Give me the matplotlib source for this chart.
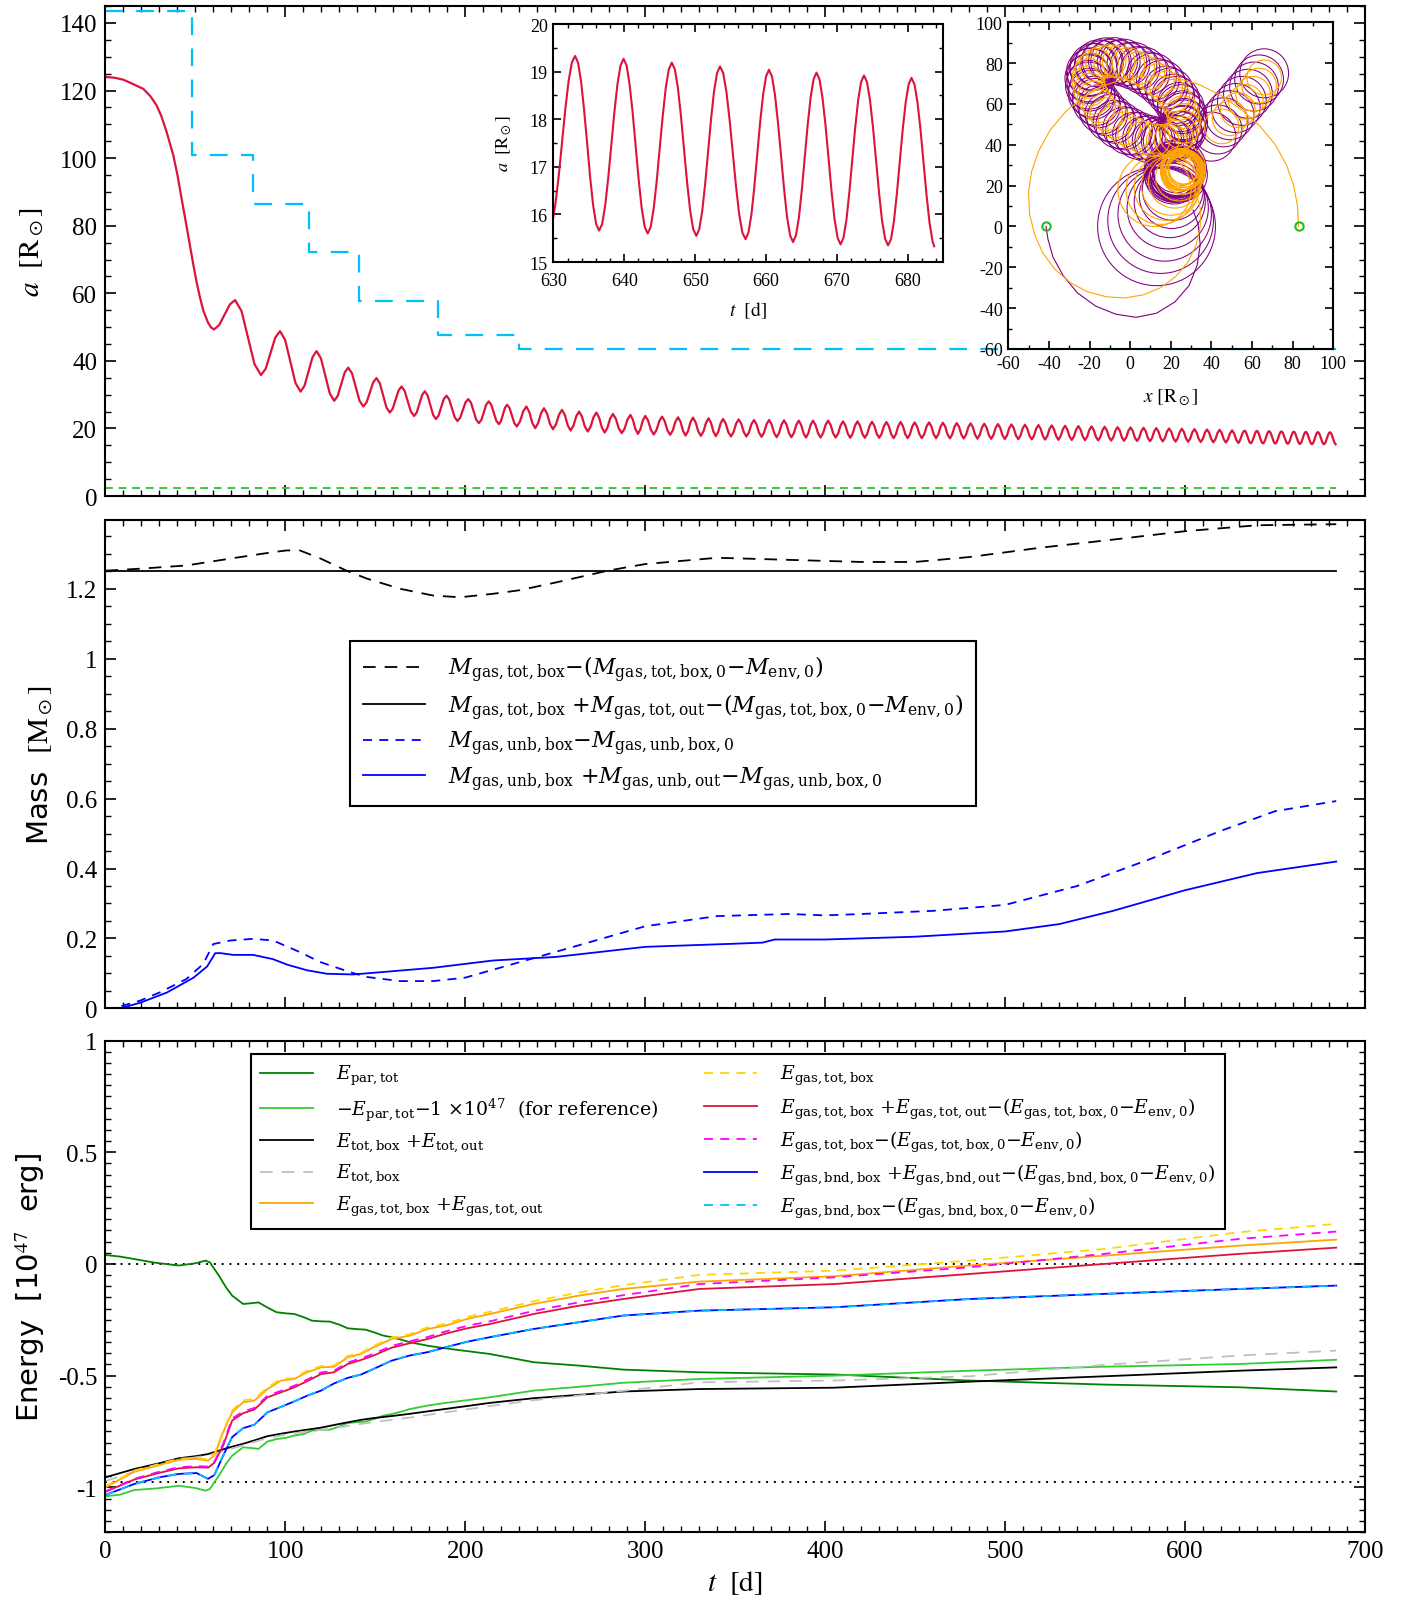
import matplotlib
matplotlib.use("Agg")
import matplotlib.pyplot as plt
from matplotlib.patches import Circle
from matplotlib.ticker import MultipleLocator, FuncFormatter
from matplotlib.font_manager import FontProperties

# ---------------- top panel: separation a(t) ----------------
a_early_t = [0, 5, 10, 15, 21, 25, 28.4, 31, 34, 37.7, 40, 42.3, 44.6, 46.9, 48.8, 50.6, 52.5, 54.3, 57, 58.7,
             60.3, 63.2, 66.15, 69.1, 72, 75.6, 79.2, 82.8, 86.4, 89.05, 91.7, 94.35, 97, 99.85, 102.7, 105.55,
             108.4, 110.6, 112.85, 115.1, 117.3, 119.75, 122.2, 124.65, 127.1, 129.05, 131.0, 132.95, 134.9,
             137.0, 139.1, 141.2, 143.3, 145.1, 146.95, 148.8, 150.6, 152.45, 154.3, 156.15, 158, 159.6, 161.25,
             162.9, 164.5, 166.25, 168.0, 169.75, 171.5, 173.0, 174.5, 176.0, 177.5, 179.0, 180.55, 182.1, 183.6,
             185.1, 186.55, 188.0, 189.5, 191.0, 192.55, 194.1, 195.6, 197.1, 198.6, 200.1, 201.6, 203.1, 204.55,
             206.0, 207.5, 208.9, 210.25, 211.6, 213, 214.4, 215.8, 217.2, 218.6, 219.75, 220.9, 222.05, 223.2,
             224.55, 225.9, 227.25, 228.6]
a_early = [124, 123.8, 123.2, 122, 120.5, 118.3, 115.6, 112.5, 107.7, 100.8, 95, 88, 81.2, 74.2, 68.5, 63.4, 58.8,
           55, 51.3, 49.9, 49.3, 50.6, 53.65, 56.7, 58, 54.76, 46.9, 39.04, 35.8, 37.7, 42.3, 46.9, 48.8, 46.19,
           39.85, 33.51, 30.9, 32.65, 36.9, 41.15, 42.9, 40.75, 35.55, 30.35, 28.2, 29.63, 33.1, 36.57, 38, 36.32,
           32.25, 28.18, 26.5, 27.73, 30.7, 33.67, 34.9, 33.41, 29.8, 26.19, 24.7, 25.82, 28.55, 31.28, 32.4, 31.13,
           28.05, 24.97, 23.7, 24.77, 27.35, 29.93, 31, 29.8, 26.9, 24.0, 22.8, 23.81, 26.25, 28.69, 29.7, 28.6,
           25.95, 23.3, 22.2, 23.15, 25.45, 27.75, 28.7, 27.66, 25.15, 22.64, 21.6, 22.53, 24.8, 27.07, 28, 27.02,
           24.65, 22.28, 21.3, 22.13, 24.15, 26.17, 27.0, 26.07, 23.8, 21.53, 20.6]

a_peak_t = [233.9, 243.7, 253.7, 263.2, 272.8, 282.0, 291.7, 300.0, 309.3, 318.2, 326.5, 335.2, 343.2, 351.9, 360.4,
            368.8, 377.1, 385.3, 393.2, 401.6, 409.9, 417.9, 426.0, 434.0, 441.9, 449.7, 457.7, 465.4, 473.1,
            480.8, 488.4, 496.0, 503.5, 511.0, 518.5, 525.9, 533.3, 540.7, 548.0, 555.3, 562.5, 569.7, 576.9,
            584.0, 591.1, 598.2, 605.2, 612.2, 619.2, 626.1, 633.06, 639.9, 646.7, 653.5, 660.4, 667.1, 673.8, 680.5]
a_peak = [26.5, 26.0, 25.5, 25.0, 24.7, 24.3, 24.0, 23.7, 23.5, 23.3, 23.2, 23.0, 22.8, 22.7, 22.5, 22.5, 22.4, 22.3,
          22.3, 22.3, 22.1, 22.1, 21.95, 21.9, 21.9, 21.8, 21.8, 21.7, 21.6, 21.5, 21.4, 21.3, 21.2, 21.1, 21.0, 20.9,
          20.8, 20.7, 20.6, 20.5, 20.4, 20.3, 20.2, 20.1, 20.0, 19.9, 19.8, 19.7, 19.6, 19.45, 19.33, 19.27, 19.19,
          19.11, 19.04, 18.98, 18.92, 18.87]
a_trough_t = [238.8, 248.7, 258.5, 268.0, 277.4, 286.9, 295.9, 304.7, 313.8, 322.4, 330.9, 339.2, 347.6, 356.2, 364.6,
              373.0, 381.2, 389.3, 397.4, 405.8, 413.9, 422.0, 430.0, 438.0, 445.8, 453.7, 461.6, 469.3, 477.0,
              484.6, 492.2, 499.8, 507.3, 514.8, 522.2, 529.6, 537.0, 544.4, 551.7, 558.9, 566.1, 573.3, 580.5,
              587.6, 594.7, 601.7, 608.7, 615.7, 622.7, 629.6, 636.45, 643.3, 650.15, 657.1, 663.8, 670.5, 677.2, 683.7]
a_trough = [20.09, 19.79, 19.40, 19.10, 18.81, 18.61, 18.41, 18.22, 18.12, 17.92, 17.82, 17.73, 17.63, 17.63, 17.53,
            17.43, 17.43, 17.33, 17.33, 17.33, 17.23, 17.23, 17.23, 17.13, 17.13, 17.13, 17.13, 17.08, 17.03, 16.98,
            16.93, 16.88, 16.83, 16.78, 16.72, 16.66, 16.60, 16.54, 16.48, 16.42, 16.36, 16.30, 16.24, 16.18, 16.12,
            16.06, 16.00, 15.92, 15.84, 15.72, 15.66, 15.60, 15.55, 15.48, 15.42, 15.37, 15.35, 15.30]
# shoulder points of each swing (read between the extrema)
a_mid_t = [230.37, 232.13, 235.53, 237.17, 240.43, 242.07, 245.37, 247.03, 250.37, 252.03, 255.3, 256.9, 260.07,
           261.63, 264.8, 266.4, 269.6, 271.2, 274.33, 275.87, 278.93, 280.47, 283.63, 285.27, 288.5, 290.1, 293.1,
           294.5, 297.27, 298.63, 301.57, 303.13, 306.23, 307.77, 310.8, 312.3, 315.27, 316.73, 319.6, 321.0,
           323.77, 325.13, 327.97, 329.43, 332.33, 333.77, 336.53, 337.87, 340.53, 341.87, 344.67, 346.13, 349.03,
           350.47, 353.33, 354.77, 357.6, 359.0, 361.8, 363.2, 366.0, 367.4, 370.2, 371.6, 374.37, 375.73, 378.47,
           379.83, 382.57, 383.93, 386.63, 387.97, 390.6, 391.9, 394.6, 396.0, 398.8, 400.2, 403.0, 404.4, 407.17,
           408.53, 411.23, 412.57, 415.23, 416.57, 419.27, 420.63, 423.33, 424.67, 427.33, 428.67, 431.33, 432.67,
           435.33, 436.67, 439.3, 440.6, 443.2, 444.5, 447.1, 448.4, 451.03, 452.37, 455.03, 456.37, 459.0, 460.3,
           462.87, 464.13, 466.7, 468.0, 470.57, 471.83, 474.4, 475.7, 478.27, 479.53, 482.07, 483.33, 485.87,
           487.13, 489.67, 490.93, 493.47, 494.73, 497.27, 498.53, 501.03, 502.27, 504.77, 506.03, 508.53, 509.77,
           512.27, 513.53, 516.03, 517.27, 519.73, 520.97, 523.43, 524.67, 527.13, 528.37, 530.83, 532.07, 534.53,
           535.77, 538.23, 539.47, 541.93, 543.17, 545.6, 546.8, 549.23, 550.47, 552.9, 554.1, 556.5, 557.7, 560.1,
           561.3, 563.7, 564.9, 567.3, 568.5, 570.9, 572.1, 574.5, 575.7, 578.1, 579.3, 581.67, 582.83, 585.2,
           586.4, 588.77, 589.93, 592.3, 593.5, 595.87, 597.03, 599.37, 600.53, 602.87, 604.03, 606.37, 607.53,
           609.87, 611.03, 613.37, 614.53, 616.87, 618.03, 620.37, 621.53, 623.83, 624.97, 627.27, 628.43]
a_mid = [22.08, 25.03, 24.90, 21.69, 21.57, 24.52, 24.45, 21.34, 21.22, 24.07, 23.98, 20.93, 20.80, 23.60, 23.53,
         20.58, 20.50, 23.30, 23.23, 20.28, 20.18, 22.93, 22.88, 20.03, 19.96, 22.65, 22.60, 19.81, 19.73, 22.38,
         22.33, 19.59, 19.54, 22.18, 22.16, 19.47, 19.42, 22.0, 21.96, 19.27, 19.24, 21.88, 21.86, 19.17, 19.12,
         21.71, 21.68, 19.05, 19.0, 21.53, 21.51, 18.92, 18.90, 21.43, 21.43, 18.90, 18.85, 21.28, 21.26, 18.77,
         18.77, 21.26, 21.23, 18.70, 18.67, 21.16, 21.16, 18.67, 18.65, 21.08, 21.06, 18.57, 18.57, 21.06, 21.06,
         18.57, 18.57, 21.06, 21.06, 18.57, 18.52, 20.91, 20.88, 18.45, 18.45, 20.88, 20.88, 18.45, 18.41, 20.77,
         20.77, 18.41, 18.40, 20.73, 20.71, 18.32, 18.32, 20.71, 20.71, 18.32, 18.30, 20.63, 20.63, 18.30, 18.30,
         20.63, 20.63, 18.30, 18.27, 20.56, 20.55, 18.24, 18.21, 20.47, 20.46, 18.17, 18.15, 20.38, 20.37, 18.11,
         18.09, 20.30, 20.28, 18.05, 18.02, 20.21, 20.20, 17.99, 17.96, 20.12, 20.11, 17.92, 17.90, 20.03, 20.02,
         17.86, 17.84, 19.95, 19.93, 17.79, 17.77, 19.86, 19.84, 17.72, 17.70, 19.77, 19.75, 17.65, 17.63, 19.68,
         19.66, 17.58, 17.56, 19.59, 19.57, 17.51, 17.49, 19.50, 19.48, 17.44, 17.42, 19.41, 19.39, 17.37, 17.35,
         19.32, 19.30, 17.30, 17.28, 19.23, 19.21, 17.23, 17.21, 19.14, 19.12, 17.16, 17.14, 19.05, 19.03, 17.09,
         17.07, 18.96, 18.94, 17.02, 17.0, 18.87, 18.85, 16.95, 16.93, 18.78, 18.76, 16.87, 16.84, 18.68, 18.66,
         16.78, 16.74, 18.55, 18.52, 16.65]

step_t = [0, 48.2, 82, 113, 141, 185, 230, 684]
step_a = [143.5, 100.8, 86.3, 72.1, 57.7, 47.7, 43.5, 43.5]
floor_t = [0, 684]
floor_a = [2.5, 2.5]

# inset: late-time separation
ins_t = [630.0, 630.315, 630.77, 631.23, 631.69, 632.145, 632.60, 633.06,
         633.48, 633.91, 634.33, 634.76, 635.18, 635.60, 636.03, 636.45,
         636.88, 637.31, 637.74, 638.18, 638.61, 639.04, 639.47, 639.9,
         640.33, 640.75, 641.18, 641.6, 642.03, 642.45, 642.88, 643.3,
         643.73, 644.15, 644.58, 645.0, 645.43, 645.85, 646.28, 646.7,
         647.13, 647.56, 647.99, 648.43, 648.86, 649.29, 649.72, 650.15,
         650.57, 650.99, 651.41, 651.83, 652.24, 652.66, 653.08, 653.5,
         653.95, 654.4, 654.85, 655.3, 655.75, 656.2, 656.65, 657.1,
         657.51, 657.93, 658.34, 658.75, 659.16, 659.58, 659.99, 660.4,
         660.83, 661.25, 661.68, 662.1, 662.53, 662.95, 663.38, 663.8,
         664.21, 664.63, 665.04, 665.45, 665.86, 666.28, 666.69, 667.1,
         667.53, 667.95, 668.38, 668.8, 669.23, 669.65, 670.08, 670.5,
         670.91, 671.33, 671.74, 672.15, 672.56, 672.98, 673.39, 673.8,
         674.23, 674.65, 675.08, 675.5, 675.93, 676.35, 676.78, 677.2,
         677.61, 678.03, 678.44, 678.85, 679.26, 679.68, 680.09, 680.5,
         680.93, 681.35, 681.78, 682.2, 682.63, 683.05, 683.48, 683.7]
ins_a = [15.95, 16.25, 16.83, 17.53, 18.22, 18.80, 19.19, 19.33,
         19.19, 18.79, 18.20, 17.50, 16.79, 16.20, 15.80, 15.66,
         15.80, 16.19, 16.77, 17.47, 18.16, 18.74, 19.13, 19.27,
         19.13, 18.73, 18.14, 17.44, 16.73, 16.14, 15.74, 15.60,
         15.74, 16.13, 16.71, 17.40, 18.08, 18.66, 19.05, 19.19,
         19.05, 18.66, 18.07, 17.37, 16.67, 16.08, 15.69, 15.55,
         15.69, 16.07, 16.65, 17.33, 18.01, 18.59, 18.97, 19.11,
         18.97, 18.58, 17.99, 17.30, 16.60, 16.01, 15.62, 15.48,
         15.62, 16.00, 16.58, 17.26, 17.94, 18.52, 18.90, 19.04,
         18.90, 18.51, 17.92, 17.23, 16.54, 15.95, 15.56, 15.42,
         15.56, 15.94, 16.52, 17.20, 17.88, 18.46, 18.84, 18.98,
         18.84, 18.45, 17.87, 17.18, 16.48, 15.90, 15.51, 15.37,
         15.51, 15.89, 16.47, 17.15, 17.82, 18.40, 18.78, 18.92,
         18.78, 18.40, 17.82, 17.14, 16.45, 15.87, 15.49, 15.35,
         15.48, 15.86, 16.44, 17.11, 17.78, 18.35, 18.73, 18.87,
         18.73, 18.35, 17.77, 17.09, 16.40, 15.82, 15.43, 15.33]

# inset: particle trajectories (first orbit arcs and loop circles: x, y, radius)
p1_arc_x = [-41.4, -40.5, -38, -33, -26, -17, -7, 3, 13, 22, 29, 33, 34.5, 33.5, 31]
p1_arc_y = [0, -6, -15, -24, -32.5, -39, -43, -44.5, -42.5, -37, -29, -19, -9, 1, 8]
p2_arc_x = [82.9, 82.4, 80.5, 77, 71.5, 64, 55, 45, 34, 22, 10, -2, -13, -23, -32, -39.5, -45, -48.5, -50, -49.5,
            -47, -43, -37, -29.5, -21, -11.5, -2.5, 6.5, 15, 22.5, 28.5, 32.5, 34.5, 34.5, 32]
p2_arc_y = [0, 10, 20, 30, 40, 49, 57, 64, 69.5, 73, 74, 72.5, 69, 63.5, 56, 47, 37, 27, 17, 6, -4, -13, -21, -27.5,
            -32, -34.5, -35, -33.5, -30, -24.5, -17.5, -9, 0, 9, 18]

ring_x = [25.11, 26.35, 26.60, 25.78, 23.97, 21.27, 17.74, 13.60, 8.96, 4.08, -0.85, -5.61, -10.00, -13.82, -16.89,
          -19.11, -20.35, -20.60, -19.78, -17.97, -15.27, -11.74, -7.60, -2.96, 1.92, 6.85, 11.61, 16.00, 19.82, 22.89]
ring_y = [46.00, 48.81, 52.17, 55.95, 59.96, 64.04, 68.01, 71.69, 74.95, 77.59, 79.54, 80.70, 81.03, 80.51, 79.13,
          77.00, 74.19, 70.83, 67.05, 63.04, 58.96, 54.99, 51.31, 48.05, 45.41, 43.46, 42.30, 41.97, 42.49, 43.87]
ring2_x = [25.87, 26.60, 26.31, 25.00, 22.73, 19.60, 15.74, 11.32, 6.54, 1.60, -3.27, -7.86, -11.99, -15.46, -18.13,
           -19.87, -20.60, -20.31, -19.00, -16.73, -13.60, -9.74, -5.32, -0.54, 4.40, 9.27, 13.86, 17.99, 21.46, 24.13]
ring2_y = [47.33, 50.43, 54.02, 57.93, 62.00, 66.05, 69.90, 73.38, 76.34, 78.67, 80.22, 80.97, 80.86, 79.91, 78.17,
           75.67, 72.57, 68.98, 65.07, 61.00, 56.95, 53.10, 49.62, 46.66, 44.33, 42.78, 42.03, 42.14, 43.09, 44.83]
arm_x = [40, 43, 46, 49, 52, 55, 58, 61, 63.5, 66]
arm_y = [44, 47.5, 51, 54.5, 58, 61.5, 65, 68.5, 72, 75]
core1_x = [22.0, 22.5, 23.0, 22.0, 23.5, 21.5, 23.0, 22.5, 24.0, 21.0, 22.0, 23.5, 22.8, 21.8, 24.5, 20.5]
core1_y = [26.0, 26.5, 27.0, 27.5, 26.0, 25.5, 25.0, 28.0, 27.0, 27.0, 24.5, 28.5, 26.2, 26.8, 25.5, 26.0]
core1_r = [14.0, 13.5, 13.0, 12.5, 12.0, 14.5, 13.0, 11.5, 12.5, 13.5, 12.0, 14.0, 11.0, 15.0, 13.5, 12.0]
low1_x = [13, 15, 17, 18.5, 19.5, 20.5, 21]
low1_y = [0, 3, 6, 9, 12, 15, 18]
low1_r = [29, 26, 23, 20, 17.5, 16, 15]

arm2_x = [45, 49, 53, 57, 60.5, 63.5, 66]
arm2_y = [49, 53, 57, 61, 65, 69, 73]
core2_x = [26.0, 26.5, 25.5, 26.2, 25.8, 27.0, 25.0, 26.6, 26.0, 25.3, 26.8, 25.7, 26.3, 25.9]
core2_y = [27.5, 27.0, 28.0, 26.5, 28.5, 27.8, 27.2, 28.2, 26.8, 27.9, 27.3, 26.9, 28.8, 27.6]
core2_r = [10.0, 9.0, 8.0, 10.5, 9.5, 8.5, 9.8, 7.5, 11.0, 10.3, 9.3, 8.8, 10.8, 7.0]
low2_x = [12, 15, 18, 20, 22, 24]
low2_y = [18, 18, 19, 20, 22, 24]
low2_r = [18, 17, 16, 14.5, 13, 11.5]

p1_loop_x = ring_x + ring2_x + arm_x + core1_x + low1_x
p1_loop_y = ring_y + ring2_y + arm_y + core1_y + low1_y
p1_loop_r = [10.5] * 30 + [11.5] * 30 + [12] * 10 + core1_r + low1_r
p2_loop_x = ring_x + arm2_x + core2_x + low2_x
p2_loop_y = ring_y + arm2_y + core2_y + low2_y
p2_loop_r = [8] * 30 + [8.5] * 7 + core2_r + low2_r
start_x = [-41.4, 82.9]
start_y = [0, 0]

# ---------------- middle panel: mass ----------------
m_box_t = [0, 20, 45, 71, 93, 100.6, 108, 119, 134, 145.5, 164, 182, 197, 215.5, 230, 250, 280, 300, 340, 380, 420,
           450, 480, 520, 560, 600, 640, 684]
m_box = [1.252, 1.258, 1.267, 1.288, 1.305, 1.31, 1.31, 1.288, 1.252, 1.229, 1.2, 1.181, 1.176, 1.186, 1.196, 1.218,
         1.253, 1.271, 1.289, 1.283, 1.277, 1.277, 1.291, 1.318, 1.341, 1.365, 1.382, 1.385]
m_all_t = [0, 684]
m_all = [1.252, 1.252]
m_unb_box_t = [0, 4.4, 19.2, 30.3, 45, 54.3, 59.9, 69.2, 82.2, 93.2, 108, 119.1, 135.7, 145, 163.6, 182.2, 200, 230,
               260, 300, 340, 380, 400, 420, 460, 500, 540, 580, 620, 650, 684]
m_unb_box = [0, 0, 0.022, 0.046, 0.084, 0.127, 0.184, 0.194, 0.199, 0.194, 0.161, 0.133, 0.104, 0.090, 0.078, 0.078,
             0.088, 0.132, 0.176, 0.235, 0.264, 0.270, 0.266, 0.270, 0.279, 0.296, 0.350, 0.426, 0.508, 0.564, 0.593]
m_unb_all_t = [0, 8, 19.2, 34, 49, 56.5, 61, 64, 71, 82, 93, 101, 112, 123, 137.6, 154.2, 182, 215.5, 250, 300, 350,
               365, 372, 400, 450, 500, 530, 560, 600, 640, 660, 684]
m_unb_all = [0, 0, 0.016, 0.045, 0.088, 0.12, 0.158, 0.158, 0.153, 0.153, 0.141, 0.125, 0.109, 0.099, 0.097, 0.104,
             0.116, 0.137, 0.147, 0.176, 0.185, 0.188, 0.197, 0.197, 0.205, 0.22, 0.241, 0.279, 0.338, 0.387, 0.402,
             0.42]

# ---------------- bottom panel: energy (1e47 erg) ----------------
dg_t = [0, 8, 16, 28, 40.7, 50, 55.6, 58, 63, 67, 70.4, 76.5, 81, 85, 90, 95, 100, 105, 110, 114.8, 120, 124.7, 130,
        134.6, 140, 144.4, 150, 154, 159, 164, 169, 179, 189, 198.8, 213.6, 238, 263, 287.7, 330, 405, 480, 555,
        630, 684]
e_par = [0.040, 0.033, 0.022, 0.005, -0.007, 0.003, 0.015, 0.007, -0.052, -0.105, -0.142, -0.179, -0.176, -0.172,
         -0.195, -0.216, -0.221, -0.224, -0.238, -0.254, -0.257, -0.258, -0.272, -0.288, -0.292, -0.294, -0.308,
         -0.32, -0.328, -0.338, -0.35, -0.366, -0.378, -0.388, -0.403, -0.44, -0.455, -0.473, -0.485, -0.495,
         -0.522, -0.54, -0.552, -0.571]
e_par_ref = [-1.040, -1.033, -1.012, -1.005, -0.993, -1.003, -1.015, -1.007, -0.948, -0.895, -0.858, -0.821, -0.824,
             -0.828, -0.795, -0.784, -0.779, -0.768, -0.762, -0.746, -0.743, -0.742, -0.728, -0.712, -0.708, -0.706,
             -0.692, -0.680, -0.672, -0.662, -0.650, -0.634, -0.622, -0.612, -0.597, -0.567, -0.550, -0.532, -0.515,
             -0.500, -0.478, -0.460, -0.448, -0.429]

e_t = [0, 16, 30, 40.7, 50.6, 57, 60.5, 65.4, 70.4, 76.5, 82.7, 90, 97.5, 105, 112, 119.8, 127, 134.6, 142, 149,
       159, 169, 179, 189, 201, 213.6, 238, 263, 287.7, 330, 405, 480, 555, 630, 684]
e_tot_all = [-0.955, -0.918, -0.892, -0.870, -0.860, -0.851, -0.842, -0.830, -0.818, -0.805, -0.790, -0.771, -0.760,
             -0.750, -0.742, -0.733, -0.721, -0.709, -0.698, -0.690, -0.681, -0.671, -0.660, -0.649, -0.636, -0.622,
             -0.601, -0.586, -0.571, -0.560, -0.554, -0.527, -0.503, -0.478, -0.463]
e_tot_box = [-0.972, -0.930, -0.900, -0.878, -0.865, -0.857, -0.850, -0.838, -0.826, -0.812, -0.797, -0.780, -0.768,
             -0.758, -0.750, -0.743, -0.735, -0.725, -0.716, -0.708, -0.698, -0.688, -0.676, -0.664, -0.651, -0.636,
             -0.610, -0.589, -0.568, -0.530, -0.522, -0.503, -0.452, -0.410, -0.388]
e_gas_all = [-1.0, -0.93, -0.90, -0.876, -0.873, -0.88, -0.858, -0.753, -0.664, -0.619, -0.612, -0.56, -0.522, -0.515,
             -0.485, -0.463, -0.46, -0.418, -0.403, -0.373, -0.336, -0.321, -0.291, -0.276, -0.246, -0.224, -0.179,
             -0.142, -0.112, -0.079, -0.055, -0.007, 0.037, 0.082, 0.109]
e_gas_box = [-0.995, -0.925, -0.895, -0.872, -0.868, -0.875, -0.85, -0.745, -0.655, -0.61, -0.605, -0.552, -0.515,
             -0.51, -0.478, -0.457, -0.455, -0.412, -0.398, -0.367, -0.33, -0.314, -0.284, -0.268, -0.237, -0.214,
             -0.167, -0.128, -0.095, -0.049, -0.03, 0.015, 0.067, 0.142, 0.179]
e_gas_all_corr = [-1.02, -0.965, -0.935, -0.915, -0.91, -0.912, -0.89, -0.813, -0.701, -0.668, -0.652, -0.597,
                  -0.575, -0.552, -0.525, -0.493, -0.485, -0.448, -0.43, -0.41, -0.375, -0.355, -0.336, -0.312,
                  -0.288, -0.269, -0.224, -0.187, -0.157, -0.112, -0.09, -0.045, 0.0, 0.045, 0.073]
e_gas_box_corr = [-1.018, -0.962, -0.93, -0.91, -0.905, -0.907, -0.885, -0.805, -0.692, -0.66, -0.645, -0.59,
                  -0.568, -0.545, -0.518, -0.486, -0.478, -0.441, -0.423, -0.402, -0.367, -0.346, -0.327, -0.302,
                  -0.277, -0.257, -0.21, -0.172, -0.14, -0.09, -0.06, -0.015, 0.045, 0.112, 0.145]
e_bnd_all_corr = [-1.034, -0.985, -0.955, -0.94, -0.936, -0.962, -0.945, -0.858, -0.775, -0.735, -0.72, -0.664,
                  -0.64, -0.615, -0.59, -0.567, -0.535, -0.51, -0.495, -0.47, -0.433, -0.41, -0.395, -0.373, -0.348,
                  -0.328, -0.291, -0.261, -0.231, -0.209, -0.194, -0.157, -0.134, -0.112, -0.097]
e_bnd_box_corr = [-1.034, -0.985, -0.955, -0.94, -0.936, -0.962, -0.945, -0.857, -0.774, -0.735, -0.72, -0.663,
                  -0.64, -0.615, -0.59, -0.566, -0.535, -0.51, -0.495, -0.47, -0.433, -0.41, -0.395, -0.373, -0.348,
                  -0.328, -0.291, -0.261, -0.231, -0.209, -0.194, -0.157, -0.134, -0.112, -0.097]
ref_levels = [0.0, -0.978]

# ---------------- styling ----------------
plt.rcParams.update({
    "font.family": "DejaVu Sans",
    "mathtext.fontset": "stix",
    "axes.unicode_minus": False,
    "axes.linewidth": 1.5,
})
SERIF = "Liberation Serif"
fmt = FuncFormatter(lambda v, pos: f"{v:g}")


def style_axes(ax, xmaj, xmin, ymaj, ymin, size, major_len=8, minor_len=4, pad=6):
    ax.xaxis.set_major_locator(MultipleLocator(xmaj))
    ax.xaxis.set_minor_locator(MultipleLocator(xmin))
    ax.yaxis.set_major_locator(MultipleLocator(ymaj))
    ax.yaxis.set_minor_locator(MultipleLocator(ymin))
    ax.xaxis.set_major_formatter(fmt)
    ax.yaxis.set_major_formatter(fmt)
    ax.tick_params(which="both", direction="in", top=True, right=True, labelsize=size,
                   labelfontfamily=SERIF, pad=pad)
    ax.tick_params(which="major", length=major_len, width=1.2)
    ax.tick_params(which="minor", length=minor_len, width=1.0)


fig = plt.figure(figsize=(14.07, 16.06), dpi=100)
left, width = 0.07498, 0.89517
ax_a = fig.add_axes([left, 0.6905, width, 0.3051])
ax_m = fig.add_axes([left, 0.3715, width, 0.3043])
ax_e = fig.add_axes([left, 0.04545, width, 0.3060])

# top panel: early decay, then extrema + shoulders, then the finely read last stretch
late = [(t, v) for t, v in zip(a_peak_t + a_trough_t + a_mid_t, a_peak + a_trough + a_mid) if t < 630]
late = sorted(late + list(zip(ins_t, ins_a)))
a_t = a_early_t + [p[0] for p in late]
a_v = a_early + [p[1] for p in late]
ax_a.plot(step_t, step_a, color="#00bfff", lw=1.6, drawstyle="steps-post", dashes=(8, 6))
ax_a.plot(floor_t, floor_a, color="#33cc33", lw=1.4, dashes=(4, 3))
ax_a.plot(a_t, a_v, color="#dc143c", lw=1.6, solid_joinstyle="round")
ax_a.set_xlim(0, 700)
ax_a.set_ylim(0, 145)
style_axes(ax_a, 100, 10, 20, 5, 18)
ax_a.tick_params(labelbottom=False)
ax_a.set_ylabel(r"$a\ \ [\mathrm{R}_\odot]$", fontsize=21, labelpad=10)

# inset: a(t) at late times
ax_i = fig.add_axes([0.3933, 0.8362, 0.2772, 0.1482])
ax_i.plot(ins_t, ins_a, color="#dc143c", lw=1.5)
ax_i.set_xlim(630, 685)
ax_i.set_ylim(15, 20)
style_axes(ax_i, 10, 2, 1, 0.5, 13, major_len=6, minor_len=3, pad=4)
ax_i.tick_params(axis="x", pad=7)
ax_i.set_xlabel(r"$t\ \ [\mathrm{d}]$", fontsize=14, labelpad=8)
ax_i.set_ylabel(r"$a\ \ [\mathrm{R}_\odot]$", fontsize=13, labelpad=12)

# inset: orbits
ax_o = fig.add_axes([0.7166, 0.7821, 0.2310, 0.2034])
for cx, cy, r in zip(p1_loop_x, p1_loop_y, p1_loop_r):
    ax_o.add_patch(Circle((cx, cy), r, fill=False, edgecolor="#800080", lw=0.75))
ax_o.plot(p1_arc_x, p1_arc_y, color="#800080", lw=0.8)
for cx, cy, r in zip(p2_loop_x, p2_loop_y, p2_loop_r):
    ax_o.add_patch(Circle((cx, cy), r, fill=False, edgecolor="#ffa500", lw=0.8))
ax_o.plot(p2_arc_x, p2_arc_y, color="#ffa500", lw=0.8)
ax_o.plot(start_x, start_y, "o", mfc="none", mec="#22bb22", mew=1.5, ms=6)
ax_o.set_xlim(-60, 100)
ax_o.set_ylim(-60, 100)
style_axes(ax_o, 20, 10, 20, 10, 13, major_len=6, minor_len=3, pad=4)
ax_o.set_xlabel(r"$x\ [\mathrm{R}_\odot]$", fontsize=14, labelpad=11)

# middle panel
ax_m.plot(m_box_t, m_box, color="black", lw=1.3, dashes=(7, 5),
          label=r"$M_\mathrm{gas,tot,box}$$-$$(M_\mathrm{gas,tot,box,0}$$-$$M_\mathrm{env,0})$")
ax_m.plot(m_all_t, m_all, color="black", lw=1.3,
          label=r"$M_\mathrm{gas,tot,box}$ +$M_\mathrm{gas,tot,out}$$-$$(M_\mathrm{gas,tot,box,0}$$-$$M_\mathrm{env,0})$")
ax_m.plot(m_unb_box_t, m_unb_box, color="blue", lw=1.3, dashes=(5, 4),
          label=r"$M_\mathrm{gas,unb,box}$$-$$M_\mathrm{gas,unb,box,0}$")
ax_m.plot(m_unb_all_t, m_unb_all, color="blue", lw=1.3,
          label=r"$M_\mathrm{gas,unb,box}$ +$M_\mathrm{gas,unb,out}$$-$$M_\mathrm{gas,unb,box,0}$")
ax_m.set_xlim(0, 700)
ax_m.set_ylim(0, 1.398)
style_axes(ax_m, 100, 10, 0.2, 0.05, 18)
ax_m.tick_params(labelbottom=False)
ax_m.set_ylabel(r"Mass  $[\mathrm{M}_\odot]$", fontsize=21, labelpad=8)
leg = ax_m.legend(loc="upper left", bbox_to_anchor=(0.194, 0.752), borderaxespad=0,
                  prop=FontProperties(family="DejaVu Serif", size=16, math_fontfamily="dejavuserif"),
                  fancybox=False, edgecolor="black", framealpha=1, handlelength=2.8, labelspacing=0.33,
                  borderpad=0.6, handletextpad=1.0)
leg.get_frame().set_linewidth(1.5)

# bottom panel
for lvl in ref_levels:
    ax_e.axhline(lvl, color="black", lw=1.4, ls=(0, (1, 3)))
ax_e.plot(dg_t, e_par, color="green", lw=1.3, label=r"$E_\mathrm{par,tot}$")
ax_e.plot(dg_t, e_par_ref, color="#33cc33", lw=1.3,
          label=r"$-E_\mathrm{par,tot}$$-$1 ×10$^{47}$  (for reference)")
ax_e.plot(e_t, e_tot_all, color="black", lw=1.3, label=r"$E_\mathrm{tot,box}$ +$E_\mathrm{tot,out}$")
ax_e.plot(e_t, e_tot_box, color="#c0c0c0", lw=1.3, dashes=(7, 5), label=r"$E_\mathrm{tot,box}$")
ax_e.plot(e_t, e_gas_all, color="#ffa500", lw=1.3, label=r"$E_\mathrm{gas,tot,box}$ +$E_\mathrm{gas,tot,out}$")
ax_e.plot(e_t, e_gas_box, color="#ffd700", lw=1.3, dashes=(5, 4), label=r"$E_\mathrm{gas,tot,box}$")
ax_e.plot(e_t, e_gas_all_corr, color="#dc143c", lw=1.3,
          label=r"$E_\mathrm{gas,tot,box}$ +$E_\mathrm{gas,tot,out}$$-$$(E_\mathrm{gas,tot,box,0}$$-$$E_\mathrm{env,0})$")
ax_e.plot(e_t, e_gas_box_corr, color="#ff00ff", lw=1.3, dashes=(5, 4),
          label=r"$E_\mathrm{gas,tot,box}$$-$$(E_\mathrm{gas,tot,box,0}$$-$$E_\mathrm{env,0})$")
ax_e.plot(e_t, e_bnd_all_corr, color="blue", lw=1.3,
          label=r"$E_\mathrm{gas,bnd,box}$ +$E_\mathrm{gas,bnd,out}$$-$$(E_\mathrm{gas,bnd,box,0}$$-$$E_\mathrm{env,0})$")
ax_e.plot(e_t, e_bnd_box_corr, color="#00bfff", lw=1.3, dashes=(5, 4),
          label=r"$E_\mathrm{gas,bnd,box}$$-$$(E_\mathrm{gas,bnd,box,0}$$-$$E_\mathrm{env,0})$")
ax_e.set_xlim(0, 700)
ax_e.set_ylim(-1.2, 1.0)
style_axes(ax_e, 100, 10, 0.5, 0.05, 18)
ax_e.set_ylabel(r"Energy  [10$^{47}$  erg]", fontsize=21, labelpad=8)
ax_e.set_xlabel(r"$t\ \ [\mathrm{d}]$", fontsize=21, labelpad=4)
leg2 = ax_e.legend(loc="upper left", bbox_to_anchor=(0.1155, 0.973), borderaxespad=0, ncol=2,
                   prop=FontProperties(family="DejaVu Serif", size=13.6, math_fontfamily="dejavuserif"),
                   fancybox=False, edgecolor="black", framealpha=1, handlelength=2.8, labelspacing=0.42,
                   borderpad=0.5, handletextpad=1.2, columnspacing=2.45)
leg2.get_frame().set_linewidth(1.5)

fig.savefig("out.png", dpi=100)
